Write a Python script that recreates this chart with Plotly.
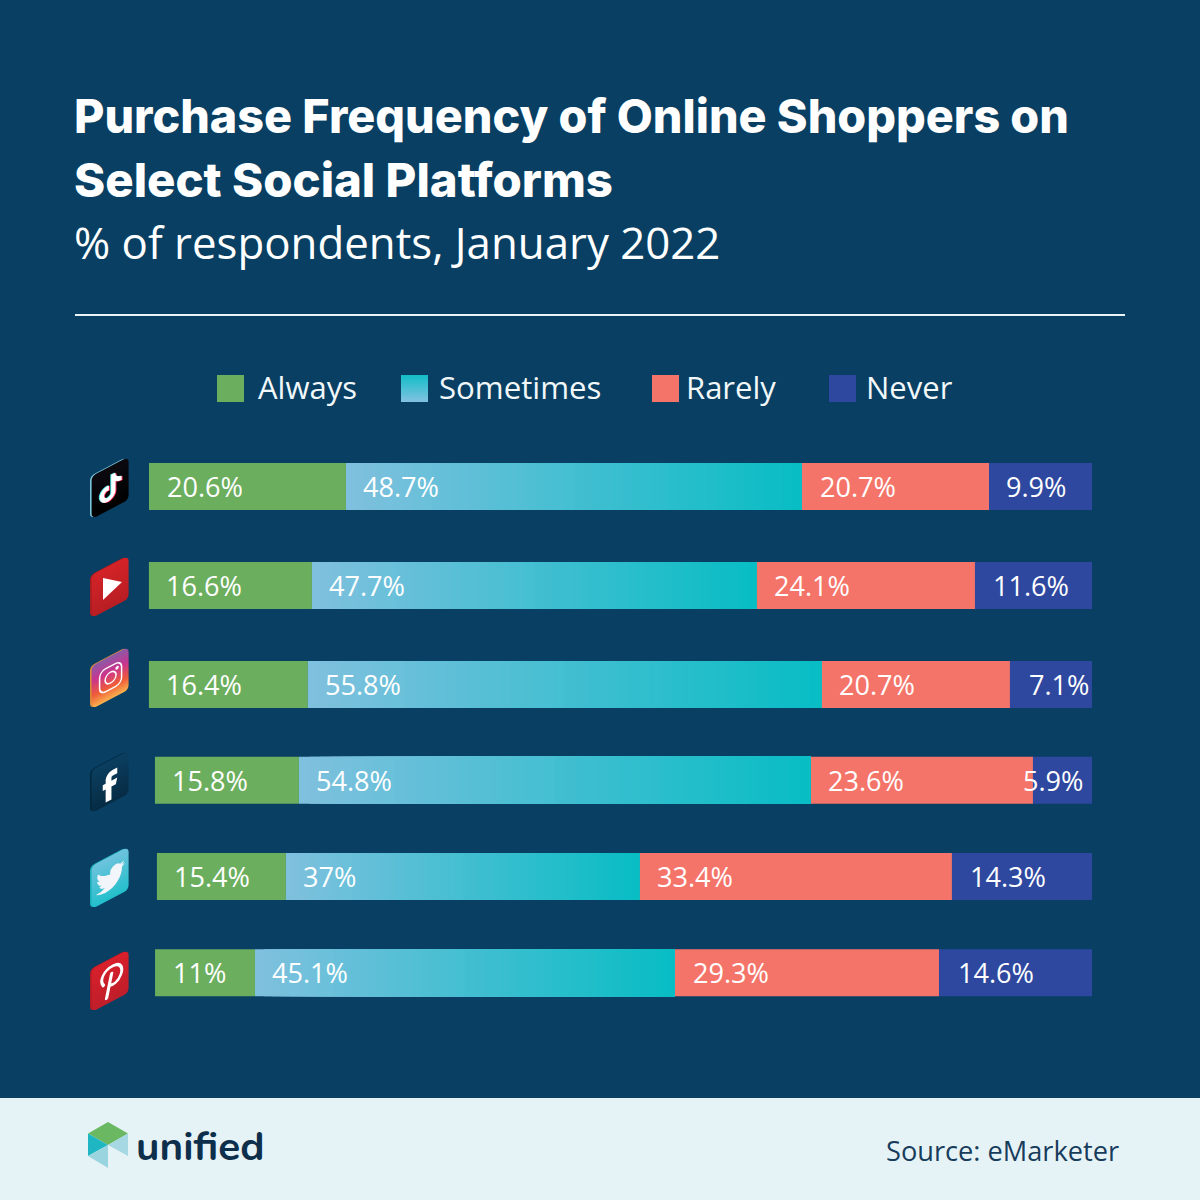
import base64
import plotly.graph_objects as go

# Platforms, top to bottom
platforms = ["TikTok", "YouTube", "Instagram", "Facebook", "Twitter", "Pinterest"]
series_names = ["Always", "Sometimes", "Rarely", "Never"]

# Printed labels
always_labels = ["20.6%", "16.6%", "16.4%", "15.8%", "15.4%", "11%"]
sometimes_labels = ["48.7%", "47.7%", "55.8%", "54.8%", "37%", "45.1%"]
rarely_labels = ["20.7%", "24.1%", "20.7%", "23.6%", "33.4%", "29.3%"]
never_labels = ["9.9%", "11.6%", "7.1%", "5.9%", "14.3%", "14.6%"]

# Segment lengths as drawn in the picture (the original art is not exactly to scale with its labels)
always_len = [20.89, 17.29, 16.86, 15.27, 13.68, 10.60]
sometimes_len = [48.36, 47.19, 54.51, 54.30, 37.54, 44.54]
rarely_len = [19.83, 23.12, 19.94, 23.54, 33.09, 28.00]
never_len = [10.92, 12.41, 8.70, 6.26, 14.85, 16.22]

BG = "#083F63"
GREEN = "#6BAE5E"
RED = "#F5746A"
NAVY = "#2E48A0"
GRAD_A = (127, 192, 222)
GRAD_B = (6, 189, 196)
PX = 9.43           # pixels per axis unit
SLICES = 48
PAD = 16.5 / PX
never_pad = [16, 17, 18, -11, 17, 18]

fig = go.Figure()


def mix(t):
    return "rgb(%d,%d,%d)" % tuple(round(a + (b - a) * t) for a, b in zip(GRAD_A, GRAD_B))


starts = [100 - (a + s + r + n) for a, s, r, n in zip(always_len, sometimes_len, rarely_len, never_len)]
label_notes = []

for rows, yax, w in (([0, 1, 2], "y", 47 / 99), ([3, 4, 5], "y2", 47 / 96.25)):
    cats = [platforms[i] for i in rows]
    fig.add_bar(name="Always", orientation="h", y=cats, yaxis=yax, xaxis="x", width=w,
                x=[always_len[i] for i in rows], base=[starts[i] for i in rows],
                marker=dict(color=GREEN, line_width=0), showlegend=False)
    # the gradient of the middle series, painted left to right
    for k in range(SLICES):
        f = k / SLICES
        fig.add_bar(name="Sometimes", orientation="h", y=cats, yaxis=yax, xaxis="x", width=w,
                    x=[sometimes_len[i] * (1 - f) for i in rows],
                    base=[starts[i] + always_len[i] + sometimes_len[i] * f for i in rows],
                    marker=dict(color=mix(f), line_width=0), showlegend=False)
    fig.add_bar(name="Rarely", orientation="h", y=cats, yaxis=yax, xaxis="x", width=w,
                x=[rarely_len[i] for i in rows],
                base=[starts[i] + always_len[i] + sometimes_len[i] for i in rows],
                marker=dict(color=RED, line_width=0), showlegend=False)
    fig.add_bar(name="Never", orientation="h", y=cats, yaxis=yax, xaxis="x", width=w,
                x=[never_len[i] for i in rows],
                base=[starts[i] + always_len[i] + sometimes_len[i] + rarely_len[i] for i in rows],
                marker=dict(color=NAVY, line_width=0), showlegend=False)
    for i in rows:
        a = starts[i]
        b = a + always_len[i]
        c = b + sometimes_len[i]
        d = c + rarely_len[i]
        for xv, t in ((a + PAD, always_labels[i]), (b + PAD, sometimes_labels[i]),
                      (c + PAD, rarely_labels[i]), (d + never_pad[i] / PX, never_labels[i])):
            label_notes.append(dict(text=t, x=xv, y=platforms[i], xref="x", yref=yax, xanchor="left",
                                    yanchor="middle", yshift=0, showarrow=False, borderpad=0,
                                    font=dict(family="Open Sans", size=27.1, color="#FFFFFF")))


def uri(svg):
    return "data:image/svg+xml;base64," + base64.b64encode(svg.encode()).decode()


def icon(side, face_def, glyph):
    """Isometric app tile, 40x63."""
    return (
        '<svg xmlns="http://www.w3.org/2000/svg" width="40" height="63" viewBox="0 0 40 63">'
        f'<defs>{face_def}</defs>'
        '<g transform="matrix(1,-0.52,0,1,0,20)"><rect x="0" y="0" width="37" height="43" rx="5" '
        f'fill="{side}"/></g>'
        '<g transform="matrix(1,-0.52,0,1,1.6,20)"><rect x="0" y="0" width="37" height="43" rx="5" fill="url(#f)"/>'
        f'{glyph}</g></svg>'
    )


def grad(stops, vertical=True):
    end = 'x2="0" y2="1"' if vertical else 'x2="1" y2="0"'
    s = "".join(f'<stop offset="{o}" stop-color="{c}"/>' for o, c in stops)
    return f'<linearGradient id="f" x1="0" y1="0" {end}>{s}</linearGradient>'


TIKTOK = ("M12.525.02c1.31-.02 2.61-.01 3.91-.02.08 1.53.63 3.09 1.75 4.17 1.12 1.11 2.7 1.62 4.24 1.79v4.03"
          "c-1.44-.05-2.89-.35-4.2-.97-.57-.26-1.1-.59-1.62-.93-.01 2.92.01 5.84-.02 8.75-.08 1.4-.54 2.79-1.35 3.94"
          "-1.31 1.92-3.58 3.17-5.91 3.21-1.43.08-2.86-.31-4.08-1.03-2.02-1.19-3.44-3.37-3.65-5.71-.02-.5-.03-1-.01-1.49"
          ".18-1.9 1.12-3.72 2.58-4.96 1.66-1.44 3.98-2.13 6.15-1.72.02 1.48-.04 2.96-.04 4.44-.99-.32-2.15-.23-3.02.37"
          "-.63.41-1.11 1.04-1.36 1.75-.21.51-.15 1.07-.14 1.61.24 1.64 1.82 3.02 3.5 2.87 1.12-.01 2.19-.66 2.77-1.61"
          ".19-.33.4-.67.41-1.06.1-1.79.06-3.57.07-5.36.01-4.03-.01-8.05.02-12.07z")
BIRD = ("M23.95 4.57a10 10 0 0 1-2.82.77 4.96 4.96 0 0 0 2.16-2.72c-.95.55-2 .95-3.12 1.18a4.92 4.92 0 0 0-8.38 4.48"
        "C7.69 8.09 4.07 6.13 1.64 3.16a4.82 4.82 0 0 0-.66 2.47c0 1.71.87 3.21 2.19 4.1a4.9 4.9 0 0 1-2.23-.62v.06"
        "a4.92 4.92 0 0 0 3.95 4.83 5 5 0 0 1-2.21.08 4.93 4.93 0 0 0 4.6 3.42A9.87 9.87 0 0 1 0 19.54a14 14 0 0 0 7.56 2.21"
        "c9.05 0 14-7.5 14-13.98 0-.21 0-.42-.02-.63A9.94 9.94 0 0 0 24 4.59z")
FB = "M14 8h3V4h-3c-2.8 0-5 2.2-5 5v2H7v4h2v9h4v-9h3l1-4h-4V9c0-.6.4-1 1-1z"


def at(x, y, s):
    return f'transform="translate({x},{y}) scale({s})"'


icons = [
    (456, icon("#7CC6DC", grad([(0, "#0A0A10"), (1, "#000000")]),
               f'<g {at(6.5, 9, 1.05)}><path d="{TIKTOK}" fill="#FF2A55" transform="translate(0.9,0.7)"/>'
               f'<path d="{TIKTOK}" fill="#4FE3EA" transform="translate(-0.9,-0.7)"/><path d="{TIKTOK}" fill="#FFFFFF"/></g>')),
    (555, icon("#A81C22", grad([(0, "#D42327"), (1, "#B71E24")]),
               '<path d="M11.4 8.9 L30.4 22.8 L11.4 30.9 Z" fill="#FFFFFF"/>')),
    (646, icon("#D98A3A", grad([(0, "#8A5AA8"), (0.35, "#C9358F"), (0.7, "#EE5A3A"), (1, "#FBB24E")]),
               '<g fill="none" stroke="#FFFFFF" stroke-width="1.5"><rect x="8" y="10" width="22" height="23" rx="6"/>'
               '<circle cx="19" cy="21.5" r="5.5"/><circle cx="25.5" cy="15" r="1" fill="#FFFFFF"/></g>')),
    (750, icon("#02283F", grad([(0, "#0B3F60"), (1, "#062B44")]),
               f'<g {at(1, 5, 1.45)}><path d="{FB}" fill="#FFFFFF"/></g>')),
    (846, icon("#1AAFBC", grad([(0, "#6FC3DC"), (1, "#22BFCB")]),
               f'<g {at(4.5, 8, 1.2)}><path d="{BIRD}" fill="#F2F6FA"/></g>')),
    (949, icon("#B01C26", grad([(0, "#D8202B"), (1, "#BE1E2A")]),
               '<g fill="none" stroke="#FFFFFF" stroke-linecap="round"><path stroke-width="3.4" d="M15 37 L20 15"/>'
               '<path stroke-width="3" d="M12 23 C7 15 13 8 21 8 C29 8 32 15 29 21 C27 26 21 28 18 25"/></g>')),
]

swatch = uri('<svg xmlns="http://www.w3.org/2000/svg" width="27" height="27"><defs>'
             '<linearGradient id="g" x1="0" y1="0" x2="0" y2="1"><stop offset="0" stop-color="#12BEC8"/>'
             '<stop offset="1" stop-color="#82C2E0"/></linearGradient></defs>'
             '<rect width="27" height="27" fill="url(#g)"/></svg>')

logo = uri('<svg xmlns="http://www.w3.org/2000/svg" width="40" height="46" viewBox="0 0 40 46">'
           '<path d="M20 0 L40 11.5 L20 23 L0 11.5 Z" fill="#6BB862"/>'
           '<path d="M0 11.5 L20 23 L0 34 Z" fill="#1FB6C4"/>'
           '<path d="M40 11.5 L40 34 L20 23 Z" fill="#A5D8E2"/>'
           '<path d="M0 34 L20 23 L20 46 Z" fill="#9AD5DF"/></svg>')


def img(src, x, y, w, h, layer="above"):
    return dict(source=src, xref="paper", yref="paper", x=x / 1200, y=1 - y / 1200,
                sizex=w / 1200, sizey=h / 1200, xanchor="left", yanchor="top",
                sizing="stretch", layer=layer)


images = [img(uri(svg), 90, top, 40, 63) for top, svg in icons]
images += [img(swatch, 401, 375, 27, 27), img(logo, 88, 1122, 40, 46)]


def txt(s, x, y, size, family="Open Sans", color="#FFFFFF", anchor="left", weight=None):
    f = dict(family=family, size=size, color=color)
    if weight:
        f["weight"] = weight
    return dict(text=s, xref="paper", yref="paper", x=x / 1200, y=1 - y / 1200, xanchor=anchor,
                yanchor="middle", showarrow=False, font=f)


annotations = label_notes + [
    txt("Purchase Frequency of Online Shoppers on", 72, 116, 46.7, "Inter", weight=800),
    txt("Select Social Platforms", 72, 179, 47.3, "Inter", weight=800),
    txt("% of respondents, January 2022", 72, 242, 43.8, "Open Sans"),
    txt("Always", 256, 387, 31, color="#F2F8FA"),
    txt("Sometimes", 437, 387, 31.2, color="#F2F8FA"),
    txt("Rarely", 684, 387, 31, color="#F2F8FA"),
    txt("Never", 864, 387, 31, color="#F2F8FA"),
    txt("unified", 134, 1146, 40.5, "Nunito, Lato", color="#0E2F4B", weight=700),
    txt("Source: eMarketer", 1121, 1150, 27.2, color="#173C5C", anchor="right"),
]


def rect(x0, y0, x1, y1, color):
    return dict(type="rect", xref="paper", yref="paper", x0=x0 / 1200, x1=x1 / 1200,
                y0=1 - y0 / 1200, y1=1 - y1 / 1200, fillcolor=color, line_width=0, layer="below")


shapes = [
    rect(0, 1098, 1200, 1200, "#E6F3F6"),
    rect(75, 314, 1125, 316, "#EAF3F6"),
    rect(217, 375, 244, 402, GREEN),
    rect(652, 375, 679, 402, RED),
    rect(829, 375, 856, 402, NAVY),
]

x0 = 100 - 1092 / PX
fig.update_layout(
    width=1200, height=1200, autosize=False,
    margin=dict(l=0, r=0, t=0, b=0, pad=0),
    paper_bgcolor=BG, plot_bgcolor="rgba(0,0,0,0)",
    barmode="overlay", showlegend=False, hovermode=False,
    xaxis=dict(domain=[0, 1], range=[x0, x0 + 1200 / PX], visible=False, anchor="y", fixedrange=True),
    yaxis=dict(domain=[1 - 734 / 1200, 1 - 437 / 1200], type="category",
               categoryorder="array", categoryarray=platforms[:3], autorange="reversed",
               visible=False, anchor="x", fixedrange=True),
    yaxis2=dict(domain=[1 - 1021 / 1200, 1 - 732 / 1200], type="category",
                categoryorder="array", categoryarray=platforms[3:], autorange="reversed",
                visible=False, anchor="x", fixedrange=True),
    images=images, annotations=annotations, shapes=shapes,
)

fig.write_html("out.html", config={"displayModeBar": False},
               post_script="document.body.style.margin='0';document.body.style.background='%s';" % BG)
